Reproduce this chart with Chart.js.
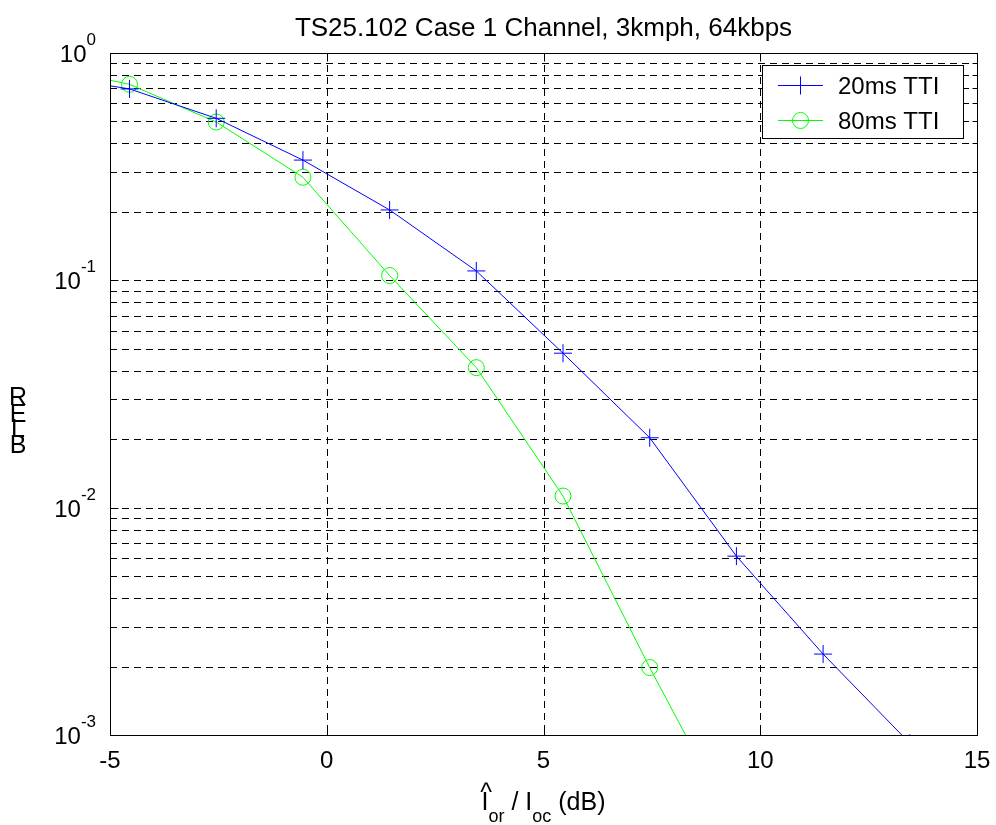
<!DOCTYPE html>
<html>
<head>
<meta charset="utf-8">
<script src="https://cdn.jsdelivr.net/npm/chart.js@4.4.0/dist/chart.umd.min.js"></script>
<style>
  html, body { margin: 0; padding: 0; background: #fff; }
  #wrap { width: 996px; height: 825px; }
</style>
</head>
<body>
<div id="wrap"><canvas id="plot" width="996" height="825"></canvas></div>
<script>
// chart data
const titleText = "TS25.102 Case 1 Channel, 3kmph, 64kbps";
const seriesNames = ["20ms TTI", "80ms TTI"];
const snrDb = [-6.55, -4.55, -2.55, -0.55, 1.45, 3.45, 5.45, 7.45, 9.45, 11.45, 13.45];
const bler20 = [0.80, 0.695, 0.516, 0.338, 0.204, 0.110, 0.0478, 0.0203, 0.00612, 0.00227, 0.00092];
const bler80 = [0.877, 0.728, 0.497, 0.284, 0.105, 0.0413, 0.01125, 0.00198, 0.00038];
const xTicks = [-5, 0, 5, 10, 15];
const yDecades = [-3, -2, -1, 0];

const FONT = '"Liberation Sans", Arial, sans-serif';

// every y grid value: 1..9 times each decade, then 10^0
const yGrid = [];
for (let d = yDecades[0]; d < yDecades[yDecades.length - 1]; d++) {
    for (let m = 1; m <= 9; m++) yGrid.push(m * Math.pow(10, d));
}
yGrid.push(1);

const toPoints = (ys) => ys.map((y, i) => ({ x: snrDb[i], y: y }));

//Draws the matlab style frame: dashed grid, box, ticks, labels, legend
const matlabFrame = {
    id: 'matlabFrame',
    beforeDatasetsDraw(chart) {
        const ctx = chart.ctx;
        const a = chart.chartArea;
        const xs = chart.scales.x, ys = chart.scales.y;
        ctx.save();
        ctx.strokeStyle = '#000';
        ctx.lineWidth = 1;
        ctx.setLineDash([7, 5]);
        ctx.beginPath();
        for (const t of xTicks) {
            if (t <= xs.min || t >= xs.max) continue;
            const px = Math.round(xs.getPixelForValue(t)) + 0.5;
            ctx.moveTo(px, a.top);
            ctx.lineTo(px, a.bottom);
        }
        for (const v of yGrid) {
            if (v <= ys.min || v >= ys.max) continue;
            const py = Math.round(ys.getPixelForValue(v)) + 0.5;
            ctx.moveTo(a.left, py);
            ctx.lineTo(a.right, py);
        }
        ctx.stroke();
        ctx.restore();
    },
    afterDraw(chart) {
        const ctx = chart.ctx;
        const a = chart.chartArea;
        const xs = chart.scales.x, ys = chart.scales.y;
        const L = Math.round(a.left) + 0.5, R = Math.round(a.right) + 0.5;
        const T = Math.round(a.top) + 0.5, B = Math.round(a.bottom) + 0.5;
        ctx.save();
        ctx.strokeStyle = '#000';
        ctx.lineWidth = 1;
        ctx.setLineDash([]);
        ctx.strokeRect(L, T, R - L, B - T);

        // tick marks pointing inward
        ctx.beginPath();
        for (const t of xTicks) {
            const px = Math.round(xs.getPixelForValue(t)) + 0.5;
            ctx.moveTo(px, B); ctx.lineTo(px, B - 8);
            ctx.moveTo(px, T); ctx.lineTo(px, T + 8);
        }
        for (const v of yGrid) {
            const py = Math.round(ys.getPixelForValue(v)) + 0.5;
            const major = Math.abs(Math.log10(v) - Math.round(Math.log10(v))) < 1e-9;
            const len = major ? 8 : 5;
            ctx.moveTo(L, py); ctx.lineTo(L + len, py);
            ctx.moveTo(R, py); ctx.lineTo(R - len, py);
        }
        ctx.stroke();

        ctx.fillStyle = '#000';
        // x tick labels
        ctx.font = '24px ' + FONT;
        ctx.textAlign = 'center';
        ctx.textBaseline = 'alphabetic';
        for (const t of xTicks) {
            ctx.fillText(String(t), xs.getPixelForValue(t), B + 32);
        }

        // y tick labels 10^d
        for (const d of yDecades) {
            const py = ys.getPixelForValue(Math.pow(10, d));
            ctx.font = '17px ' + FONT;
            const exp = String(d);
            const we = ctx.measureText(exp).width;
            const xe = 96 - we;
            ctx.textAlign = 'left';
            ctx.fillText(exp, xe, py - 8);
            ctx.font = '24px ' + FONT;
            ctx.textAlign = 'right';
            ctx.fillText('10', xe, py + 9);
        }

        // title
        ctx.font = '26px ' + FONT;
        ctx.textAlign = 'center';
        ctx.fillText(titleText, (a.left + a.right) / 2, 36);

        // y label: letters stacked upright
        ctx.font = '25px ' + FONT;
        ctx.textAlign = 'center';
        const yl = [['B', 453], ['L', 437], ['E', 422], ['R', 405]];
        for (const [ch, by] of yl) ctx.fillText(ch, 18, by);

        // x label: I-hat_or / I_oc (dB)
        const parts = [['I', 0], ['or', 1], [' / I', 0], ['oc', 1], [' (dB)', 0]];
        let total = 0;
        const widths = parts.map(([s, sub]) => {
            ctx.font = (sub ? '18px ' : '25px ') + FONT;
            const w = ctx.measureText(s).width;
            total += w;
            return w;
        });
        let cx = (a.left + a.right) / 2 - total / 2;
        ctx.textAlign = 'left';
        parts.forEach(([s, sub], i) => {
            ctx.font = (sub ? '18px ' : '25px ') + FONT;
            ctx.fillText(s, cx, sub ? 822 : 810);
            if (i === 0) {
                ctx.textAlign = 'center';
                ctx.fillText('^', cx + widths[0] / 2 + 1, 801);
                ctx.textAlign = 'left';
            }
            cx += widths[i];
        });

        // legend box
        const lx = 762.5, ly = 65.5, lw = 201, lh = 73;
        ctx.fillStyle = '#fff';
        ctx.fillRect(lx, ly, lw, lh);
        ctx.strokeRect(lx, ly, lw, lh);
        const rows = [85.5, 120.5];
        chart.data.datasets.forEach((ds, i) => {
            const yy = rows[i];
            ctx.strokeStyle = ds.borderColor;
            ctx.beginPath();
            ctx.moveTo(778, yy); ctx.lineTo(823, yy);
            ctx.stroke();
            ctx.fillStyle = 'rgba(0,0,0,0)';
            Chart.helpers.drawPoint(ctx, {
                pointStyle: ds.pointStyle, radius: ds.pointRadius, rotation: 0, borderWidth: 1
            }, 800.5, yy);
            ctx.fillStyle = '#000';
            ctx.font = '24px ' + FONT;
            ctx.textAlign = 'left';
            ctx.fillText(seriesNames[i], 838, yy + 8.5);
        });
        ctx.restore();
    }
};

const chart = new Chart(document.getElementById('plot'), {
    type: 'line',
    plugins: [matlabFrame],
    data: {
        datasets: [
            {
                label: seriesNames[0],
                data: toPoints(bler20),
                borderColor: '#0000ff',
                borderWidth: 1,
                pointStyle: 'cross',
                pointRadius: 9,
                pointBorderColor: '#0000ff',
                pointBorderWidth: 1,
                pointBackgroundColor: 'rgba(0,0,0,0)',
                tension: 0,
                fill: false
            },
            {
                label: seriesNames[1],
                data: toPoints(bler80),
                borderColor: '#00ff00',
                borderWidth: 1,
                pointStyle: 'circle',
                pointRadius: 8,
                pointBorderColor: '#00ff00',
                pointBorderWidth: 1,
                pointBackgroundColor: 'rgba(0,0,0,0)',
                tension: 0,
                fill: false
            }
        ]
    },
    options: {
        responsive: false,
        animation: false,
        events: [],
        layout: { padding: { left: 110, right: 19, top: 53, bottom: 90 } },
        scales: {
            x: { type: 'linear', min: -5, max: 15, display: false },
            y: { type: 'logarithmic', min: 0.001, max: 1, display: false }
        },
        plugins: {
            legend: { display: false },
            tooltip: { enabled: false },
            title: { display: false }
        }
    }
});
</script>
</body>
</html>
